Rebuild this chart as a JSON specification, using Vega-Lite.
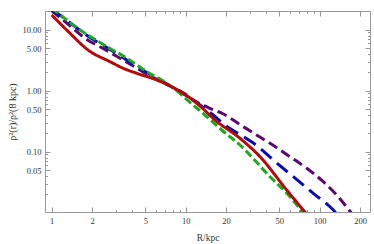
{
  "$schema": "https://vega.github.io/schema/vega-lite/v6.json",
  "width": 325,
  "height": 201,
  "autosize": {"type": "none"},
  "padding": {"left": 45, "top": 11, "right": 4, "bottom": 32},
  "background": "white",
  "config": {"view": {"stroke": null}, "font": "Liberation Serif"},
  "data": {"values": [
    {"s": "purple", "R": 1.0, "v": 20.6},
    {"s": "purple", "R": 1.294, "v": 12.88},
    {"s": "purple", "R": 1.931, "v": 6.41},
    {"s": "purple", "R": 2.167, "v": 5.61},
    {"s": "purple", "R": 3.234, "v": 3.40},
    {"s": "purple", "R": 4.56, "v": 2.18},
    {"s": "purple", "R": 5.117, "v": 1.878},
    {"s": "purple", "R": 8.0, "v": 1.128},
    {"s": "purple", "R": 10.17, "v": 0.85},
    {"s": "purple", "R": 11.09, "v": 0.731},
    {"s": "purple", "R": 14.75, "v": 0.530},
    {"s": "purple", "R": 19.08, "v": 0.415},
    {"s": "purple", "R": 25.42, "v": 0.279},
    {"s": "purple", "R": 31.95, "v": 0.2025},
    {"s": "purple", "R": 42.56, "v": 0.1374},
    {"s": "purple", "R": 60.0, "v": 0.0828},
    {"s": "purple", "R": 79.98, "v": 0.0534},
    {"s": "purple", "R": 106.4, "v": 0.0322},
    {"s": "purple", "R": 133.9, "v": 0.0195},
    {"s": "purple", "R": 173.3, "v": 0.00977},
    {"s": "purple", "R": 193.1, "v": 0.00731},
    {"s": "blue", "R": 1.0, "v": 21.4},
    {"s": "blue", "R": 1.058, "v": 19.73},
    {"s": "blue", "R": 1.931, "v": 7.45},
    {"s": "blue", "R": 2.723, "v": 4.74},
    {"s": "blue", "R": 4.827, "v": 2.14},
    {"s": "blue", "R": 6.43, "v": 1.497},
    {"s": "blue", "R": 8.0, "v": 1.128},
    {"s": "blue", "R": 10.77, "v": 0.759},
    {"s": "blue", "R": 15.18, "v": 0.439},
    {"s": "blue", "R": 20.8, "v": 0.249},
    {"s": "blue", "R": 25.42, "v": 0.1914},
    {"s": "blue", "R": 33.88, "v": 0.1264},
    {"s": "blue", "R": 45.05, "v": 0.0731},
    {"s": "blue", "R": 63.53, "v": 0.0389},
    {"s": "blue", "R": 89.6, "v": 0.0208},
    {"s": "blue", "R": 126.3, "v": 0.01107},
    {"s": "blue", "R": 146.7, "v": 0.00759},
    {"s": "green", "R": 1.0, "v": 22.5},
    {"s": "green", "R": 1.12, "v": 18.57},
    {"s": "green", "R": 1.626, "v": 9.89},
    {"s": "green", "R": 2.167, "v": 6.65},
    {"s": "green", "R": 2.723, "v": 4.92},
    {"s": "green", "R": 3.42, "v": 3.71},
    {"s": "green", "R": 4.064, "v": 2.90},
    {"s": "green", "R": 5.117, "v": 2.06},
    {"s": "green", "R": 6.43, "v": 1.555},
    {"s": "green", "R": 8.0, "v": 1.128},
    {"s": "green", "R": 9.06, "v": 0.906},
    {"s": "green", "R": 9.88, "v": 0.759},
    {"s": "green", "R": 13.93, "v": 0.3996},
    {"s": "green", "R": 18.56, "v": 0.2269},
    {"s": "green", "R": 25.42, "v": 0.1288},
    {"s": "green", "R": 42.56, "v": 0.0389},
    {"s": "green", "R": 60.0, "v": 0.0183},
    {"s": "green", "R": 75.4, "v": 0.00977},
    {"s": "green", "R": 87.6, "v": 0.00653},
    {"s": "red", "R": 1.0, "v": 17.42},
    {"s": "red", "R": 1.37, "v": 8.73},
    {"s": "red", "R": 1.866, "v": 4.65},
    {"s": "red", "R": 2.723, "v": 2.99},
    {"s": "red", "R": 3.42, "v": 2.33},
    {"s": "red", "R": 4.31, "v": 1.93},
    {"s": "red", "R": 6.08, "v": 1.50},
    {"s": "red", "R": 8.0, "v": 1.137},
    {"s": "red", "R": 10.77, "v": 0.759},
    {"s": "red", "R": 12.79, "v": 0.561},
    {"s": "red", "R": 16.54, "v": 0.331},
    {"s": "red", "R": 25.42, "v": 0.1658},
    {"s": "red", "R": 35.85, "v": 0.0828},
    {"s": "red", "R": 56.7, "v": 0.02355},
    {"s": "red", "R": 79.0, "v": 0.00977},
    {"s": "red", "R": 92.2, "v": 0.00653}
  ]},
  "layer": [
    {
      "mark": {"type": "line", "clip": true, "strokeWidth": 3, "strokeCap": "butt", "interpolate": "monotone"},
      "encoding": {
        "x": {
          "field": "R", "type": "quantitative",
          "scale": {"type": "log", "domain": [0.891, 237.3], "nice": false},
          "axis": {
            "orient": "bottom",
            "values": [1,2,3,4,5,6,7,8,9,10,20,30,40,50,60,70,80,90,100,200],
            "labelExpr": "indexof([1,2,5,10,20,50,100,200], datum.value) >= 0 ? datum.value + '' : ''",
            "tickSize": {"condition": {"test": "indexof([1,2,5,10,20,50,100,200], datum.value) >= 0", "value": -5}, "value": -2.5},
            "grid": false, "domainColor": "#999999", "tickColor": "#999999",
            "labelColor": "#333333", "labelFont": "Liberation Serif", "labelFontSize": 8.5,
            "labelPadding": 9, "labelFlush": false, "labelOverlap": false,
            "title": "R/kpc", "titleFont": "Liberation Serif", "titleFontWeight": "normal",
            "titleFontSize": 9.5, "titleColor": "#333333", "titlePadding": 5
          }
        },
        "y": {
          "field": "v", "type": "quantitative",
          "scale": {"type": "log", "domain": [0.01027, 20.26], "nice": false},
          "axis": {
            "orient": "left",
            "values": [0.02,0.03,0.04,0.05,0.06,0.07,0.08,0.09,0.1,0.2,0.3,0.4,0.5,0.6,0.7,0.8,0.9,1,2,3,4,5,6,7,8,9,10,20],
            "labelExpr": "indexof([0.05,0.1,0.5,1,5,10], datum.value) >= 0 ? format(datum.value, '.2f') : ''",
            "tickSize": {"condition": {"test": "indexof([0.05,0.1,0.5,1,5,10], datum.value) >= 0", "value": -5}, "value": -2.5},
            "grid": false, "domainColor": "#999999", "tickColor": "#999999",
            "labelColor": "#333333", "labelFont": "Liberation Serif", "labelFontSize": 8.5,
            "labelPadding": 9, "labelFlush": false, "labelOverlap": false,
            "title": "ρ²(r)/ρ²(8 kpc)", "titleFont": "Liberation Serif", "titleFontWeight": "normal",
            "titleFontSize": 10, "titleColor": "#333333", "titlePadding": 4
          }
        },
        "color": {
          "field": "s", "type": "nominal",
          "scale": {"domain": ["purple", "blue", "green", "red"], "range": ["#5a0a6e", "#0a0ab4", "#1eaa1e", "#b40a0a"]},
          "legend": null
        },
        "strokeDash": {
          "field": "s", "type": "nominal",
          "scale": {"domain": ["purple", "blue", "green", "red"], "range": [[10, 5], [14, 7], [8, 3.5], [1, 0]]},
          "legend": null
        }
      }
    },
    {
      "mark": {"type": "line", "opacity": 0, "clip": true},
      "encoding": {
        "x": {
          "field": "R", "type": "quantitative",
          "axis": {
            "orient": "top",
            "values": [1,2,3,4,5,6,7,8,9,10,20,30,40,50,60,70,80,90,100,200],
            "labels": false,
            "tickSize": {"condition": {"test": "indexof([1,2,5,10,20,50,100,200], datum.value) >= 0", "value": -5}, "value": -2.5},
            "grid": false, "domainColor": "#999999", "tickColor": "#999999", "title": null
          }
        },
        "y": {
          "field": "v", "type": "quantitative",
          "axis": {
            "orient": "right",
            "values": [0.02,0.03,0.04,0.05,0.06,0.07,0.08,0.09,0.1,0.2,0.3,0.4,0.5,0.6,0.7,0.8,0.9,1,2,3,4,5,6,7,8,9,10,20],
            "labels": false,
            "tickSize": {"condition": {"test": "indexof([0.05,0.1,0.5,1,5,10], datum.value) >= 0", "value": -5}, "value": -2.5},
            "grid": false, "domainColor": "#999999", "tickColor": "#999999", "title": null
          }
        },
        "detail": {"field": "s", "type": "nominal"}
      }
    }
  ],
  "resolve": {"axis": {"x": "independent", "y": "independent"}}
}
